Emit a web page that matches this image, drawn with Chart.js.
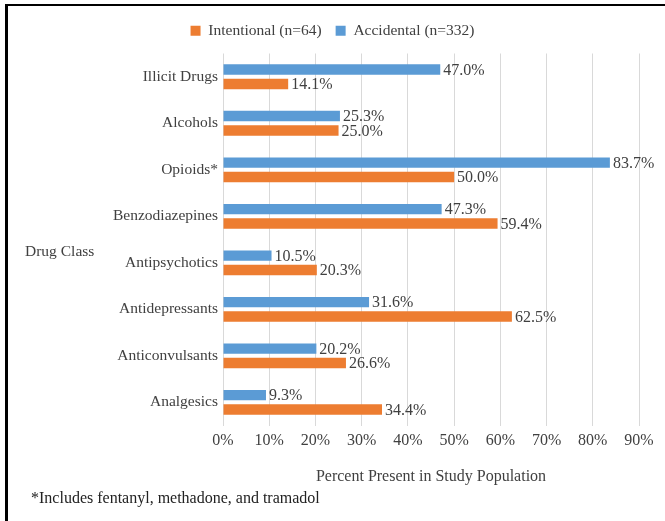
<!DOCTYPE html>
<html>
<head>
<meta charset="utf-8">
<script src="https://cdn.jsdelivr.net/npm/chart.js@4.4.0/dist/chart.umd.min.js"></script>
<style>
  body { margin: 0; background: #fff; }
  #wrap { position: relative; width: 665px; height: 521px; }
  #frame { position: absolute; left: 5px; top: 4px; right: 0; bottom: 0;
           border-top: 2px solid #000; border-left: 3px solid #000; }
  #note { position: absolute; left: 31px; top: 489px;
          font: 16px "Liberation Serif", serif; color: #222; }
</style>
</head>
<body>
<div id="wrap">
  <canvas id="chart" width="665" height="521"></canvas>
  <div id="frame"></div>
  <div id="note">*Includes fentanyl, methadone, and tramadol</div>
</div>
<script>
// drug classes, top to bottom
var categories = ['Illicit Drugs', 'Alcohols', 'Opioids*', 'Benzodiazepines',
    'Antipsychotics', 'Antidepressants', 'Anticonvulsants', 'Analgesics'];
var accidental = [47.0, 25.3, 83.7, 47.3, 10.5, 31.6, 20.2, 9.3];
var intentional = [14.1, 25.0, 50.0, 59.4, 20.3, 62.5, 26.6, 34.4];
var xTicks = [0, 10, 20, 30, 40, 50, 60, 70, 80, 90];

var serif = '"Liberation Serif", "Times New Roman", serif';
var textColor = '#404040';

// value labels to the right of each bar
var barLabels = {
    id: 'barLabels',
    afterDatasetsDraw: function (chart) {
        var ctx = chart.ctx;
        ctx.save();
        ctx.font = '16px ' + serif;
        ctx.fillStyle = textColor;
        ctx.textAlign = 'left';
        ctx.textBaseline = 'middle';
        chart.data.datasets.forEach(function (ds, i) {
            var meta = chart.getDatasetMeta(i);
            meta.data.forEach(function (bar, j) {
                ctx.fillText(ds.data[j].toFixed(1) + '%', bar.x + 3, bar.y + 1);
            });
        });
        ctx.restore();
    }
};

// horizontal "Drug Class" title on the left
var sideTitle = {
    id: 'sideTitle',
    afterDraw: function (chart) {
        var ctx = chart.ctx;
        var area = chart.chartArea;
        ctx.save();
        ctx.font = '15.5px ' + serif;
        ctx.fillStyle = textColor;
        ctx.textAlign = 'left';
        ctx.textBaseline = 'middle';
        ctx.fillText('Drug Class', 25, (area.top + area.bottom) / 2 + 12);
        ctx.restore();
    }
};

// a little more room between the legend and the plot
var legendGap = {
    id: 'legendGap',
    beforeLayout: function (chart) {
        var lg = chart.legend;
        if (lg && !lg._gapped) {
            var fit = lg.fit;
            lg.fit = function () {
                fit.call(this);
                this.height += 5;
            };
            lg._gapped = true;
        }
    }
};

var ctx = document.getElementById('chart').getContext('2d');
new Chart(ctx, {
    type: 'bar',
    data: {
        labels: categories,
        datasets: [{
            label: 'Accidental (n=332)',
            data: accidental,
            backgroundColor: '#5B9BD5',
            barPercentage: 0.72,
            categoryPercentage: 0.62
        }, {
            label: 'Intentional (n=64)',
            data: intentional,
            backgroundColor: '#ED7D31',
            barPercentage: 0.72,
            categoryPercentage: 0.62
        }]
    },
    options: {
        indexAxis: 'y',
        responsive: false,
        animation: false,
        layout: { padding: { left: 26, top: 9, right: 26, bottom: 35 } },
        plugins: {
            legend: {
                position: 'top',
                reverse: true,
                labels: {
                    boxWidth: 10,
                    boxHeight: 10,
                    padding: 14,
                    color: textColor,
                    font: { family: serif, size: 15.5 }
                }
            },
            tooltip: { enabled: false }
        },
        scales: {
            x: {
                min: 0,
                max: 90,
                afterBuildTicks: function (scale) {
                    scale.ticks = xTicks.map(function (v) { return { value: v }; });
                },
                ticks: {
                    padding: 6,
                    color: textColor,
                    font: { family: serif, size: 16 },
                    callback: function (v) { return v + '%'; }
                },
                grid: { color: '#d9d9d9', drawTicks: false },
                border: { display: false },
                title: {
                    display: true,
                    text: 'Percent Present in Study Population',
                    color: textColor,
                    font: { family: serif, size: 16 },
                    padding: { top: 10, bottom: 0 }
                }
            },
            y: {
                afterFit: function (scale) { scale.width = 197; },
                ticks: {
                    padding: 5,
                    color: textColor,
                    font: { family: serif, size: 15.5 }
                },
                grid: { display: false, drawTicks: false },
                border: { display: false }
            }
        }
    },
    plugins: [barLabels, sideTitle, legendGap]
});
</script>
</body>
</html>
